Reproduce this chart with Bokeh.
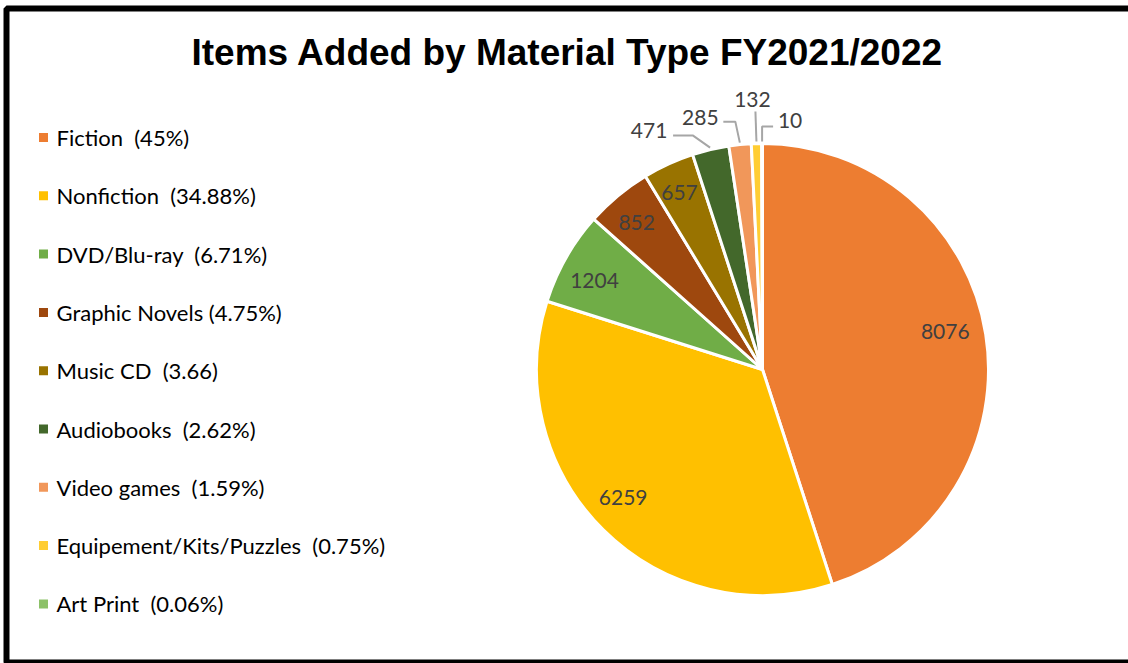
import numpy as np
from bokeh.plotting import figure
from bokeh.models import Range1d, ColumnDataSource
from bokeh.core.properties import value
from bokeh.embed import file_html
from bokeh.resources import INLINE

# ---- data ----
categories = ["Fiction", "Nonfiction", "DVD/Blu-ray", "Graphic Novels", "Music CD",
              "Audiobooks", "Video games", "Equipement/Kits/Puzzles", "Art Print"]
counts = [8076, 6259, 1204, 852, 657, 471, 285, 132, 10]
legend_labels = ["Fiction  (45%)", "Nonfiction  (34.88%)", "DVD/Blu-ray  (6.71%)",
                 "Graphic Novels (4.75%)", "Music CD  (3.66)", "Audiobooks  (2.62%)",
                 "Video games  (1.59%)", "Equipement/Kits/Puzzles  (0.75%)", "Art Print  (0.06%)"]
colors = ["#ED7D31", "#FFC000", "#70AD47", "#9E480E", "#997300",
          "#43682B", "#F1975A", "#FFCD33", "#8CC168"]
title_text = "Items Added by Material Type FY2021/2022"

# ---- layout (pixel units, y measured from top of the image) ----
W, H = 1128, 663
def X(rx):
    return rx
def Y(ry):
    return H - ry

cx, cy, R = X(762), Y(369), 226
inside_k = 0.85
# small nudges of inside labels (screen px, y down)
inside_nudge = {0: (-7, -8), 1: (-4, -8), 2: (-1, 6), 3: (-3, 1), 4: (-3, -2)}
# outside-label geometry for small slices: elbow, end, label offsets from edge point (screen px, y down)
outside = {
    5: [(-17, -12), (-37, -12), (-61, -17)],
    6: [(-4.5, -21), (-16.5, -21), (-39.5, -25)],
    7: [(-1, -30), (-1, -30), (-4, -42)],
    8: [(0, -15), (11, -15), (28, -21)],
}

p = figure(width=W, height=H, x_range=Range1d(0, W), y_range=Range1d(0, H),
           output_backend="svg", toolbar_location=None, min_border=0,
           x_axis_location=None, y_axis_location=None)
p.grid.visible = False
p.outline_line_color = None
p.background_fill_color = "white"
p.border_fill_color = "white"

# chart border
p.quad(left=[6], right=[1131], top=[Y(8)], bottom=[Y(662)], fill_color=None,
       line_color="black", line_width=6)

vals = np.array(counts, dtype=float)
frac = vals / vals.sum()
cum_end = np.cumsum(frac)
cum_start = cum_end - frac
start = np.pi / 2 - 2 * np.pi * cum_end
end = np.pi / 2 - 2 * np.pi * cum_start
mid = (start + end) / 2

src = ColumnDataSource(dict(start=start, end=end, color=colors, cat=categories))
p.wedge(x=cx, y=cy, radius=R, start_angle="start", end_angle="end",
        fill_color="color", line_color="white", line_width=3, source=src)

label_color = "#404040"
lead_color = "#A6A6A6"
for i, c in enumerate(counts):
    if i not in outside:
        nx, ny = inside_nudge.get(i, (0, 0))
        lx = cx + inside_k * R * np.cos(mid[i]) + nx
        ly = cy + inside_k * R * np.sin(mid[i]) - ny
        p.text(x=[lx], y=[ly], text=[str(c)], text_font=value("Lato"),
               text_font_size="21px", text_color=label_color,
               text_align="center", text_baseline="middle")
    else:
        ex = cx + (R + 2) * np.cos(mid[i])
        ey = cy + (R + 2) * np.sin(mid[i])
        (e1, e2, lab) = outside[i]
        xs = [ex, ex + e1[0], ex + e2[0]]
        ys = [ey, ey - e1[1], ey - e2[1]]
        p.line(xs, ys, line_color=lead_color, line_width=2)
        p.text(x=[ex + lab[0]], y=[ey - lab[1]], text=[str(c)], text_font=value("Lato"),
               text_font_size="21px", text_color=label_color,
               text_align="center", text_baseline="middle")

# legend
leg_top, leg_step = 137, 58.3
ly = [Y(leg_top + i * leg_step) for i in range(len(categories))]
shown = [s.replace("  ", " \u00a0") for s in legend_labels]
p.scatter(x=[X(43)] * len(ly), y=ly, marker="square", size=9,
          fill_color=colors, line_color=None)
p.text(x=[X(56)] * len(ly), y=ly, text=shown, text_font=value("Lato"),
       text_font_size="22px", text_color="#000000", text_align="left",
       text_baseline="middle")

# title
p.text(x=[X(567)], y=[Y(52)], text=[title_text], text_font=value("Liberation Sans"),
       text_font_style="bold", text_font_size="37px", text_color="#000000",
       text_align="center", text_baseline="middle")

open("out.html", "w").write(file_html(p, INLINE))
